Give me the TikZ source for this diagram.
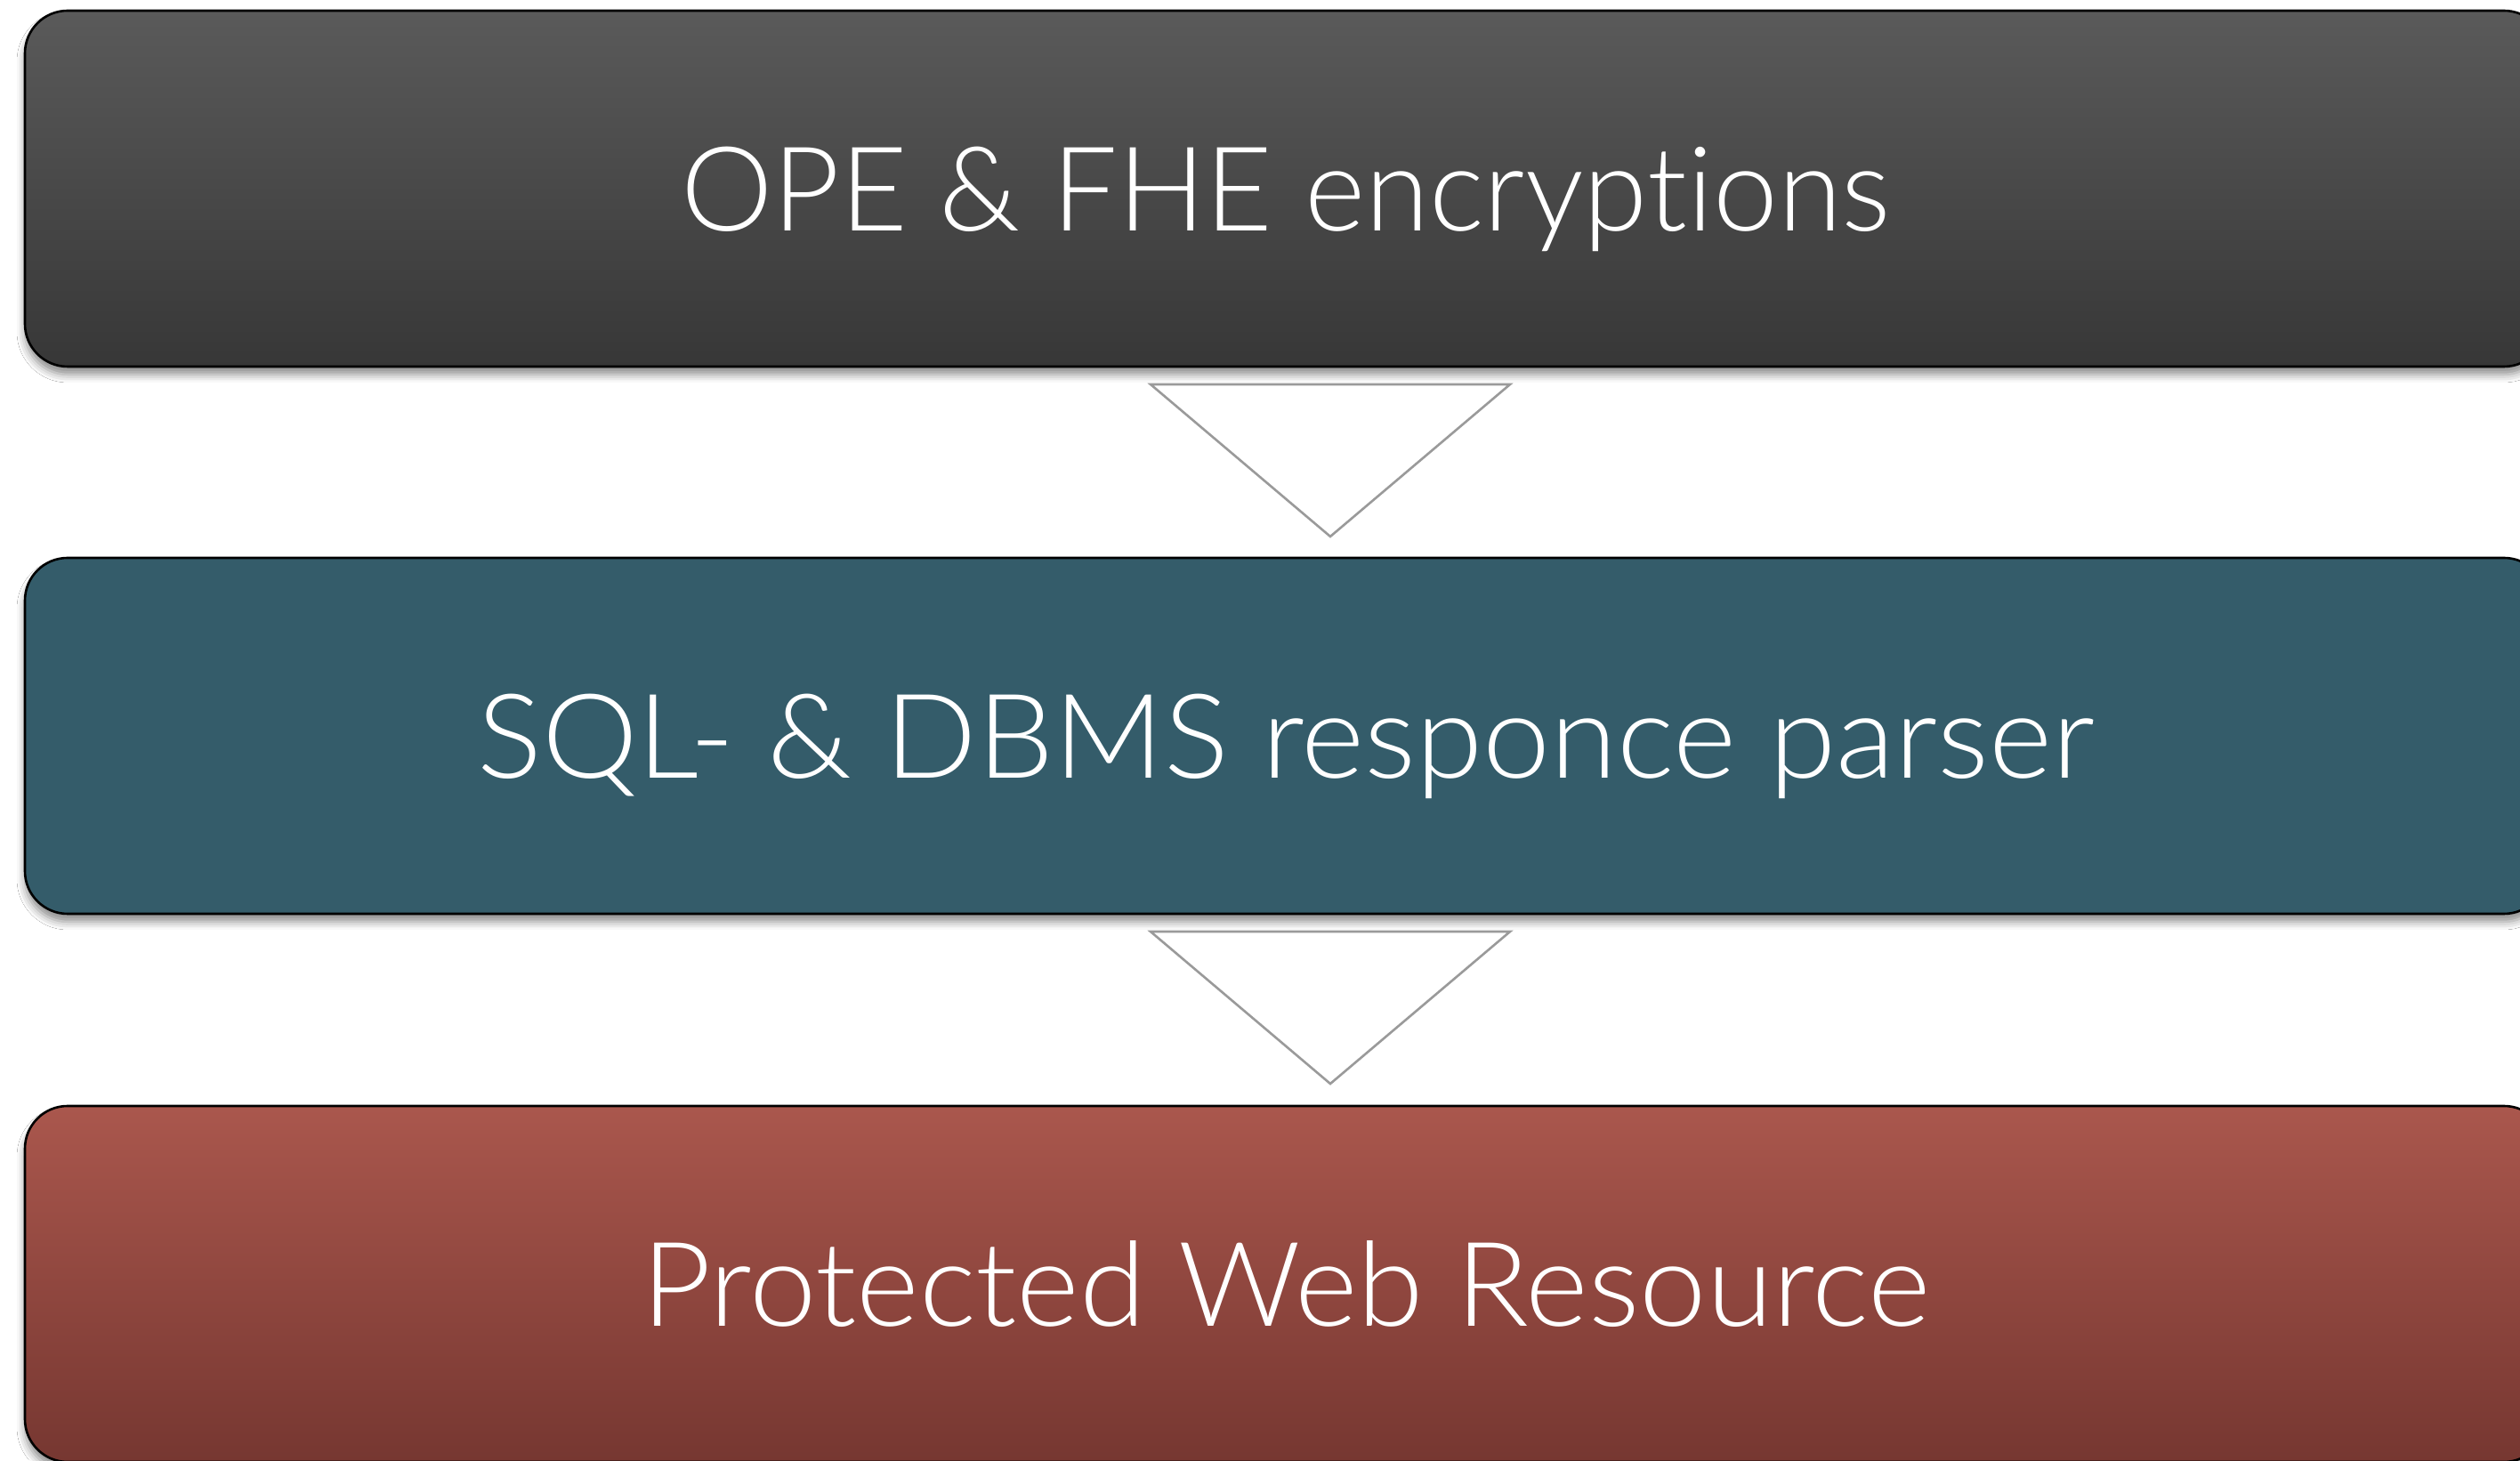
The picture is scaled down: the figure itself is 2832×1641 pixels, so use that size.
\documentclass[tikz,border=0pt]{standalone}
\usepackage{fontspec}
\setmainfont{Lato}[UprightFont=*-Light, Ligatures=NoCommon]
\usetikzlibrary{calc,shadows.blur}
\definecolor{topA}{HTML}{5A5A5A}
\definecolor{topB}{HTML}{373737}
\definecolor{midC}{HTML}{345C6A}
\definecolor{botA}{HTML}{AA574D}
\definecolor{botB}{HTML}{763731}
\definecolor{arrgray}{HTML}{9A9A9A}
\tikzset{
  stage/.style={draw=black, line width=2.6pt, rounded corners=48pt,
    minimum width=2834pt, minimum height=400pt, inner sep=0pt, outer sep=0pt,
    text height=95pt, text depth=0pt,
    text=white, font=\fontsize{132}{150}\selectfont,
    blur shadow={shadow xshift=0pt, shadow yshift=-9pt, shadow blur radius=9pt, shadow opacity=45}},
  downtri/.style={draw=arrgray, line width=2.6pt, fill=white, line join=miter}
}
\begin{document}
\begin{tikzpicture}[x=1pt,y=1pt]
\useasboundingbox (0,0) rectangle (2832,1641);
\clip (0,0) rectangle (2832,1641);
\fill[white] (0,0) rectangle (2832,1641);
\node[stage, top color=topA, bottom color=topB] (enc) at (1445,1429) {\scalebox{0.99}[1]{OPE \& FHE encryptions}};
\node[stage, fill=midC] (parse) at (1445,814) {\scalebox{1.032}[1]{SQL- \& DBMS responce parser}};
\node[stage, top color=botA, bottom color=botB] (res) at (1445,198) {\scalebox{1.024}[1]{Protected Web Resource}};
\coordinate (a1) at ($(enc.south)+(50,-20)$);
\coordinate (a2) at ($(parse.south)+(50,-20)$);
\draw[downtri] ($(a1)+(-202,0)$) -- ($(a1)+(202,0)$) -- ($(a1)+(0,-171)$) -- cycle;
\draw[downtri] ($(a2)+(-202,0)$) -- ($(a2)+(202,0)$) -- ($(a2)+(0,-171)$) -- cycle;
\end{tikzpicture}
\end{document}
